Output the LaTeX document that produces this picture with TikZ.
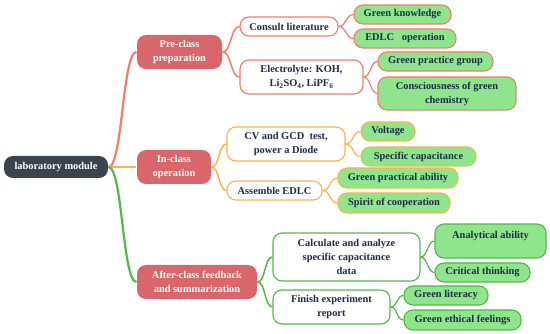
\documentclass[tikz,border=0pt]{standalone}
\usepackage{fontspec}
\setmainfont{Liberation Serif}[BoldFont={Liberation Serif Bold}]
\definecolor{rootc}{HTML}{3B434C}
\definecolor{l1c}{HTML}{D9666A}
\definecolor{redc}{HTML}{F47C6C}
\definecolor{orc}{HTML}{F9B54C}
\definecolor{grc}{HTML}{52B948}
\definecolor{grn}{HTML}{8FE58C}
\definecolor{txt}{HTML}{1E2A4A}
\begin{document}
\begin{tikzpicture}[x=1pt,y=-1pt,
  font=\rmfamily\bfseries\fontsize{10.4}{14}\selectfont,
  box/.style={rounded corners=9pt, inner sep=0pt, align=center, text=txt, line width=1.1pt},
  rootbox/.style={box, fill=rootc, text=white},
  lonebox/.style={box, fill=l1c, text=white},
  rw/.style={box, draw=redc, fill=white},
  rg/.style={box, draw=redc, fill=grn},
  ow/.style={box, draw=orc, fill=white},
  og/.style={box, draw=orc, fill=grn},
  gw/.style={box, draw=grc, fill=white},
  gg/.style={box, draw=grc, fill=grn},
  c1/.style={line width=2.2pt},
  c2/.style={line width=1.5pt},
  c3/.style={line width=1.2pt}]
\useasboundingbox (0,0) rectangle (550,334);
\fill[white] (0,0) rectangle (550,334);

% level 0/1
\node[rootbox, minimum width=104pt, minimum height=22pt] (root) at (56,167) {laboratory module};
\node[lonebox, minimum width=85pt, minimum height=34pt] (pre) at (179.5,52) {Pre-class\\preparation};
\node[lonebox, minimum width=74pt, minimum height=34pt] (in) at (174,167) {In-class\\operation};
\node[lonebox, minimum width=120pt, minimum height=34pt] (after) at (197,282) {After-class feedback\\and summarization};

% level 2
\node[rw, minimum width=98pt, minimum height=19pt] (consult) at (289,26.5) {Consult literature};
\node[rw, minimum width=123pt, minimum height=34pt] (elec) at (301.5,77) {Electrolyte: KOH,\\Li\textsubscript{2}SO\textsubscript{4}, LiPF\textsubscript{6}};
\node[ow, minimum width=118pt, minimum height=34pt] (cv) at (286,144) {CV and GCD\ \ test,\\power a Diode};
\node[ow, minimum width=95pt, minimum height=19pt] (assem) at (274.5,190.5) {Assemble EDLC};
\node[gw, minimum width=147pt, minimum height=48pt] (calc) at (346.5,257) {Calculate and analyze\\specific capacitance\\data};
\node[gw, minimum width=117pt, minimum height=34pt] (finish) at (331.5,307) {Finish experiment\\report};

% level 3
\node[rg, minimum width=97pt, minimum height=19pt] (gk) at (402.5,14.5) {Green knowledge};
\node[rg, minimum width=102pt, minimum height=19pt] (edlc) at (405,38.5) {EDLC\ \ \ operation};
\node[rg, minimum width=115pt, minimum height=19pt] (gpg) at (435.5,61.5) {Green practice group};
\node[rg, minimum width=138pt, minimum height=33pt] (cgc) at (447,93.5) {Consciousness of green\\chemistry};
\node[og, minimum width=54pt, minimum height=19pt] (volt) at (388,131.5) {Voltage};
\node[og, minimum width=115pt, minimum height=19pt] (spc) at (418.5,156.5) {Specific capacitance};
\node[og, minimum width=120pt, minimum height=20pt] (gpa) at (398,178) {Green practical ability};
\node[og, minimum width=112pt, minimum height=20pt] (spirit) at (394,203) {Spirit of cooperation};
\node[gg, minimum width=111pt, minimum height=34pt, text height=7pt, text depth=12pt] (anal) at (490.5,241) {Analytical ability};
\node[gg, minimum width=95pt, minimum height=19pt] (crit) at (482.5,272.5) {Critical thinking};
\node[gg, minimum width=84pt, minimum height=19pt] (glit) at (446,295.5) {Green literacy};
\node[gg, minimum width=117pt, minimum height=20pt] (geth) at (462.5,320) {Green ethical feelings};

% connectors level 1
\draw[c1, redc] (root.east) .. controls +(14,0) and +(-14,0) .. (pre.west);
\draw[c1, orc] (root.east) .. controls +(14,0) and +(-14,0) .. (in.west);
\draw[c1, grc] (root.east) .. controls +(14,0) and +(-14,0) .. (after.west);

% connectors level 2
\foreach \t in {consult,elec}
  \draw[c2, redc] (pre.east) .. controls +(9,0) and +(-9,0) .. (\t.west);
\foreach \t in {cv,assem}
  \draw[c2, orc] (in.east) .. controls +(8,0) and +(-8,0) .. (\t.west);
\foreach \t in {calc,finish}
  \draw[c2, grc] (after.east) .. controls +(8,0) and +(-8,0) .. (\t.west);

% connectors level 3
\foreach \t in {gk,edlc}
  \draw[c3, redc] (consult.east) .. controls +(8,0) and +(-8,0) .. (\t.west);
\foreach \t in {gpg,cgc}
  \draw[c3, redc] (elec.east) .. controls +(7,0) and +(-7,0) .. (\t.west);
\foreach \t in {volt,spc}
  \draw[c3, orc] (cv.east) .. controls +(8,0) and +(-8,0) .. (\t.west);
\foreach \t in {gpa,spirit}
  \draw[c3, orc] (assem.east) .. controls +(8,0) and +(-8,0) .. (\t.west);
\foreach \t in {anal,crit}
  \draw[c3, grc] (calc.east) .. controls +(7,0) and +(-7,0) .. (\t.west);
\foreach \t in {glit,geth}
  \draw[c3, grc] (finish.east) .. controls +(7,0) and +(-7,0) .. (\t.west);
\end{tikzpicture}
\end{document}
